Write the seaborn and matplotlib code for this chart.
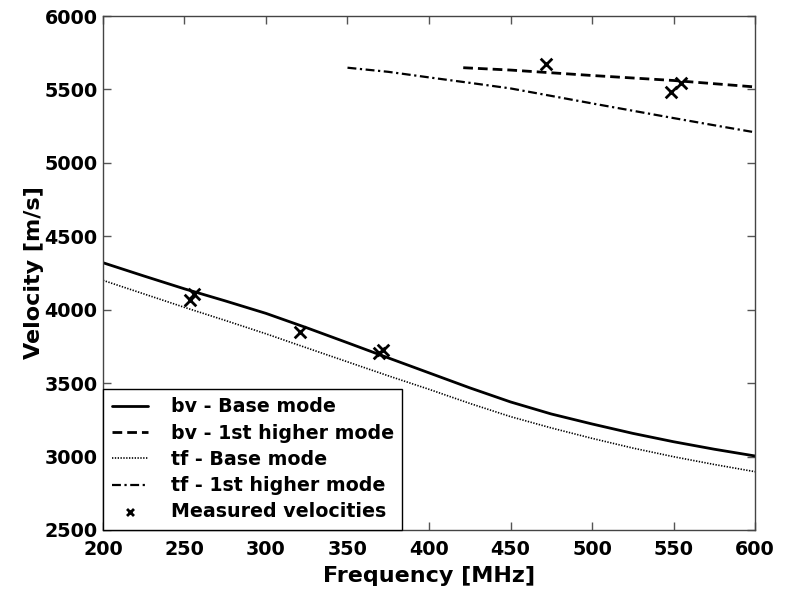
import matplotlib
matplotlib.use("Agg")
import matplotlib.pyplot as plt
import seaborn as sns

# Dispersion curves: frequency [MHz] -> velocity [m/s]
freq_base = [200, 225, 250, 275, 300, 325, 350, 375, 400,
             425, 450, 475, 500, 525, 550, 575, 600]
bv_base = [4320, 4230, 4142, 4060, 3975, 3877, 3775, 3672, 3570,
           3468, 3372, 3290, 3222, 3158, 3101, 3050, 3004]
tf_base = [4200, 4108, 4016, 3927, 3836, 3740, 3645, 3550, 3458,
           3362, 3272, 3195, 3124, 3058, 2999, 2946, 2897]

freq_bv_higher = [421, 450, 500, 550, 600]
bv_higher = [5648, 5632, 5595, 5561, 5517]

freq_tf_higher = [350, 375, 400, 425, 450, 475, 500, 525, 550, 575, 600]
tf_higher = [5648, 5620, 5582, 5545, 5507, 5456, 5405, 5355, 5305, 5256, 5208]

# Measured velocities
meas_freq = [253.4, 256.0, 321.0, 369.5, 372.0, 471.8, 548.3, 554.6]
meas_vel = [4066, 4105, 3850, 3707, 3726, 5673, 5485, 5546]

sns.set_style("ticks")
plt.rcParams["font.family"] = ["DejaVu Sans"]
plt.rcParams["font.weight"] = "bold"
plt.rcParams["text.color"] = "black"
plt.rcParams["axes.labelcolor"] = "black"

fig = plt.figure(figsize=(7.85, 5.89), dpi=100)
ax = fig.add_axes([0.1312, 0.1002, 0.8306, 0.8726])

sns.lineplot(x=freq_base, y=bv_base, ax=ax, color="black", lw=2.0,
             linestyle="-", label="bv - Base mode")
sns.lineplot(x=freq_bv_higher, y=bv_higher, ax=ax, color="black", lw=2.0,
             linestyle=(0, (3.5, 1.8)), label="bv - 1st higher mode")
sns.lineplot(x=freq_base, y=tf_base, ax=ax, color="black", lw=1.2,
             linestyle=(0, (0.8, 0.9)), label="tf - Base mode")
sns.lineplot(x=freq_tf_higher, y=tf_higher, ax=ax, color="black", lw=1.6,
             linestyle=(0, (4, 1.6, 1, 1.6)), label="tf - 1st higher mode")
sns.scatterplot(x=meas_freq, y=meas_vel, ax=ax, color="black", marker="x",
                s=70, linewidth=2.0, label="Measured velocities")

ax.set_xlim(200, 600)
ax.set_ylim(2500, 6000)
ax.set_xticks([200, 250, 300, 350, 400, 450, 500, 550, 600])
ax.set_yticks([2500, 3000, 3500, 4000, 4500, 5000, 5500, 6000])

ax.tick_params(direction="in", length=6, width=1, colors="#555555",
               labelcolor="black", labelsize=13.8, top=True, right=True)
ax.tick_params(axis="x", pad=7)
ax.tick_params(axis="y", pad=4)
for lab in ax.get_xticklabels() + ax.get_yticklabels():
    lab.set_fontweight("bold")
for sp in ax.spines.values():
    sp.set_visible(True)
    sp.set_color("#444444")
    sp.set_linewidth(1.0)

ax.set_xlabel("Frequency [MHz]", fontsize=16, fontweight="bold",
              color="black", labelpad=5)
ax.set_ylabel("Velocity [m/s]", fontsize=16, fontweight="bold",
              color="black", labelpad=0)

leg = ax.legend(loc="lower left", bbox_to_anchor=(0, 0), borderaxespad=0,
                fancybox=False, frameon=True, edgecolor="black",
                prop={"size": 13.7, "weight": "bold"}, handlelength=1.9,
                handletextpad=1.2, labelspacing=0.38, borderpad=0.45,
                markerscale=0.6)
for t in leg.get_texts():
    t.set_color("black")
leg.get_frame().set_linewidth(1.0)
leg.get_frame().set_alpha(1)

fig.savefig("out.png", dpi=100, facecolor="white")
